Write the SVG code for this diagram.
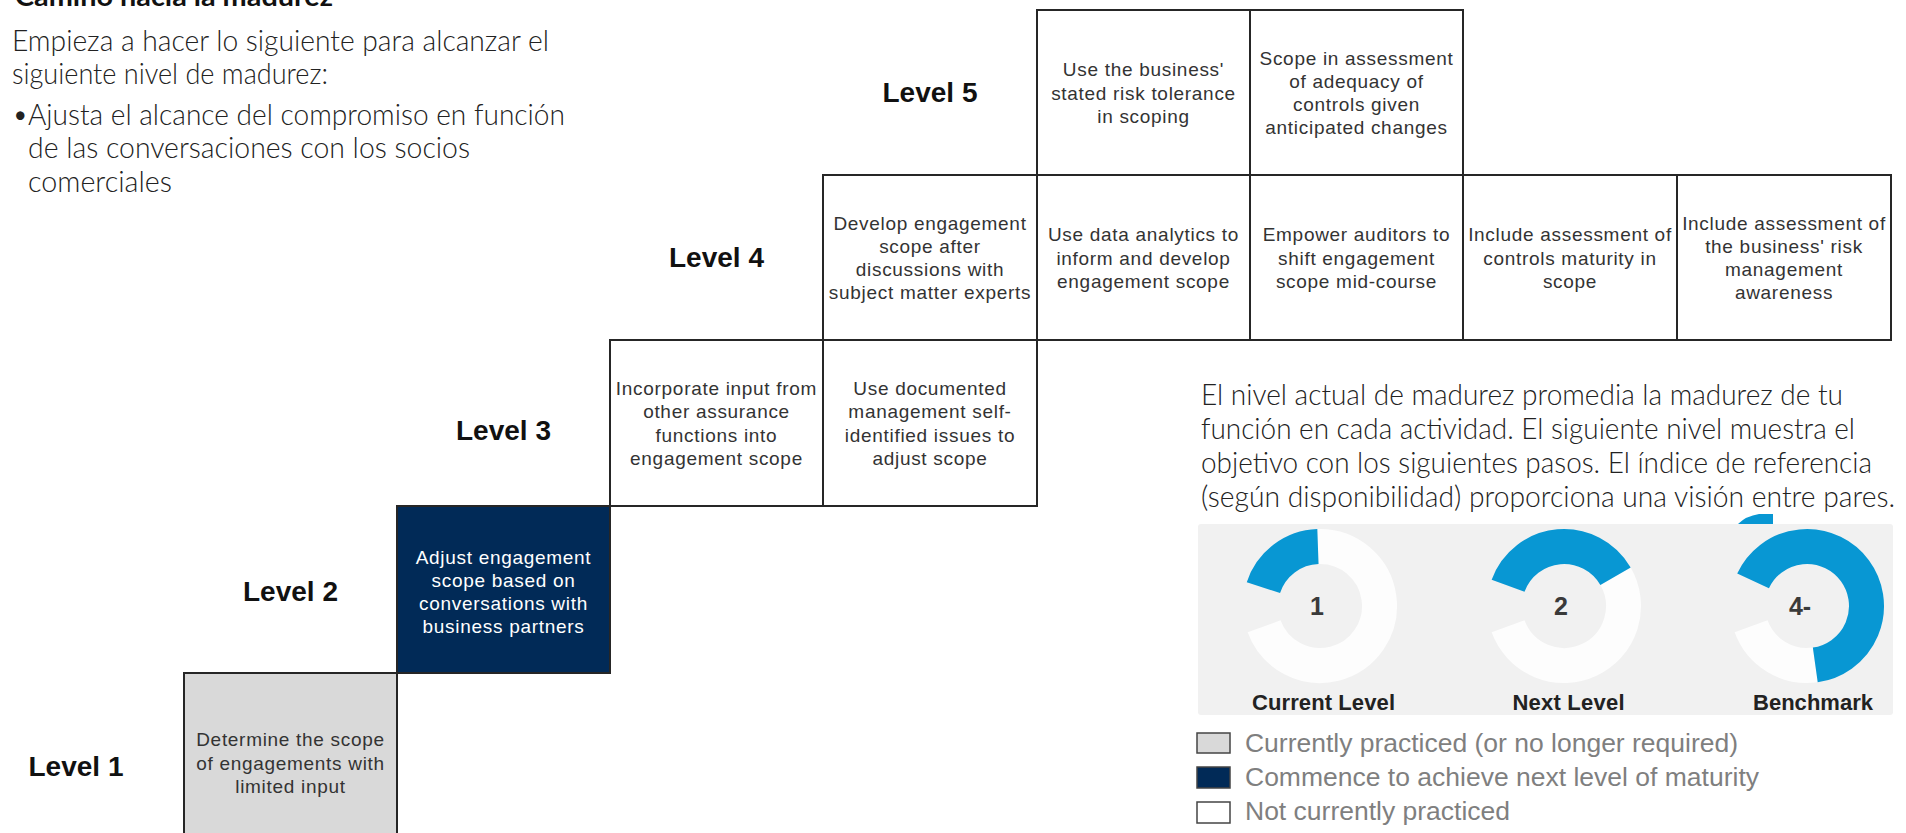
<svg xmlns="http://www.w3.org/2000/svg" width="1906" height="833" viewBox="0 0 1906 833">
<style>
.page{font-family:Lato,"Open Sans","Liberation Sans",sans-serif;font-weight:300;font-size:28.5px;fill:#222}
.title{font-family:Lato,"Open Sans","Liberation Sans",sans-serif;font-weight:700;font-size:26px;fill:#111}
.lvl{font-family:"Liberation Sans",Arial,sans-serif;font-weight:700;font-size:28px;fill:#111;text-anchor:middle}
.box{stroke:#262626;stroke-width:2}
.w{fill:#fff}
.g{fill:#d9d9d9}
.n{fill:#012a57}
.bt{font-family:"Liberation Sans",Arial,sans-serif;font-size:19px;letter-spacing:0.7px;fill:#333;text-anchor:middle}
.bt.inv{fill:#fff}
.ring{fill:none;stroke-width:35}
.blue{stroke:#0897d3}
.white{stroke:#fdfdfd}
.num{font-family:"Liberation Sans",Arial,sans-serif;font-weight:700;font-size:25px;fill:#3a3a3a;text-anchor:middle}
.dl{font-family:"Liberation Sans",Arial,sans-serif;font-weight:700;font-size:22px;fill:#222;text-anchor:middle}
.lg{font-family:"Liberation Sans",Arial,sans-serif;font-size:26.5px;fill:#7f7f7f}
.lgb{stroke:#444;stroke-width:1.5}
</style>
<rect width="1906" height="833" fill="#fff"/>

<!-- left text -->
<g id="intro">
<text class="title" x="15" y="6" textLength="318" lengthAdjust="spacingAndGlyphs">Camino hacia la madurez</text>
<text class="page" x="12" y="51" textLength="537" lengthAdjust="spacingAndGlyphs">Empieza a hacer lo siguiente para alcanzar el</text>
<text class="page" x="12" y="84" textLength="316" lengthAdjust="spacingAndGlyphs">siguiente nivel de madurez:</text>
<text class="page" x="12" y="125">•</text>
<text class="page" x="28" y="125" textLength="537" lengthAdjust="spacingAndGlyphs">Ajusta el alcance del compromiso en función</text>
<text class="page" x="28" y="158" textLength="442" lengthAdjust="spacingAndGlyphs">de las conversaciones con los socios</text>
<text class="page" x="28" y="192" textLength="144" lengthAdjust="spacingAndGlyphs">comerciales</text>
</g>

<!-- level labels -->
<g id="level-labels">
<text class="lvl" x="930" y="102">Level 5</text>
<text class="lvl" x="716.5" y="267">Level 4</text>
<text class="lvl" x="503.5" y="440">Level 3</text>
<text class="lvl" x="290.5" y="601">Level 2</text>
<text class="lvl" x="76" y="776">Level 1</text>
</g>

<!-- Level 5 -->
<g id="l5-risk-tolerance">
<rect class="box w" x="1037" y="10" width="213" height="165"/>
<text class="bt"><tspan x="1143.5" y="76.3">Use the business'</tspan><tspan x="1143.5" y="99.5">stated risk tolerance</tspan><tspan x="1143.5" y="122.7">in scoping</tspan></text>
</g>
<g id="l5-adequacy">
<rect class="box w" x="1250" y="10" width="213" height="165"/>
<text class="bt"><tspan x="1356.5" y="64.7">Scope in assessment</tspan><tspan x="1356.5" y="87.9">of adequacy of</tspan><tspan x="1356.5" y="111.1">controls given</tspan><tspan x="1356.5" y="134.3">anticipated changes</tspan></text>
</g>

<!-- Level 4 -->
<g id="l4-sme">
<rect class="box w" x="823" y="175" width="214" height="165"/>
<text class="bt"><tspan x="930" y="229.7">Develop engagement</tspan><tspan x="930" y="252.9">scope after</tspan><tspan x="930" y="276.1">discussions with</tspan><tspan x="930" y="299.3">subject matter experts</tspan></text>
</g>
<g id="l4-analytics">
<rect class="box w" x="1037" y="175" width="213" height="165"/>
<text class="bt"><tspan x="1143.5" y="241.3">Use data analytics to</tspan><tspan x="1143.5" y="264.5">inform and develop</tspan><tspan x="1143.5" y="287.7">engagement scope</tspan></text>
</g>
<g id="l4-empower">
<rect class="box w" x="1250" y="175" width="213" height="165"/>
<text class="bt"><tspan x="1356.5" y="241.3">Empower auditors to</tspan><tspan x="1356.5" y="264.5">shift engagement</tspan><tspan x="1356.5" y="287.7">scope mid-course</tspan></text>
</g>
<g id="l4-controls-maturity">
<rect class="box w" x="1463" y="175" width="214" height="165"/>
<text class="bt"><tspan x="1570" y="241.3">Include assessment of</tspan><tspan x="1570" y="264.5">controls maturity in</tspan><tspan x="1570" y="287.7">scope</tspan></text>
</g>
<g id="l4-risk-awareness">
<rect class="box w" x="1677" y="175" width="214" height="165"/>
<text class="bt"><tspan x="1784" y="229.7">Include assessment of</tspan><tspan x="1784" y="252.9">the business' risk</tspan><tspan x="1784" y="276.1">management</tspan><tspan x="1784" y="299.3">awareness</tspan></text>
</g>

<!-- Level 3 -->
<g id="l3-assurance">
<rect class="box w" x="610" y="340" width="213" height="166"/>
<text class="bt"><tspan x="716.5" y="395.2">Incorporate input from</tspan><tspan x="716.5" y="418.4">other assurance</tspan><tspan x="716.5" y="441.6">functions into</tspan><tspan x="716.5" y="464.8">engagement scope</tspan></text>
</g>
<g id="l3-self-identified">
<rect class="box w" x="823" y="340" width="214" height="166"/>
<text class="bt"><tspan x="930" y="395.2">Use documented</tspan><tspan x="930" y="418.4">management self-</tspan><tspan x="930" y="441.6">identified issues to</tspan><tspan x="930" y="464.8">adjust scope</tspan></text>
</g>

<!-- Level 2 -->
<g id="l2-adjust">
<rect class="box n" x="397" y="506" width="213" height="167"/>
<text class="bt inv"><tspan x="503.5" y="563.7">Adjust engagement</tspan><tspan x="503.5" y="586.9">scope based on</tspan><tspan x="503.5" y="610.1">conversations with</tspan><tspan x="503.5" y="633.3">business partners</tspan></text>
</g>

<!-- Level 1 -->
<g id="l1-determine">
<rect class="box g" x="184" y="673" width="213" height="175"/>
<text class="bt"><tspan x="290.5" y="746.3">Determine the scope</tspan><tspan x="290.5" y="769.5">of engagements with</tspan><tspan x="290.5" y="792.7">limited input</tspan></text>
</g>

<!-- right paragraph -->
<g id="explanation">
<text class="page" x="1201" y="405" textLength="642" lengthAdjust="spacingAndGlyphs">El nivel actual de madurez promedia la madurez de tu</text>
<text class="page" x="1201" y="439" textLength="654" lengthAdjust="spacingAndGlyphs">función en cada actividad. El siguiente nivel muestra el</text>
<text class="page" x="1201" y="473" textLength="671" lengthAdjust="spacingAndGlyphs">objetivo con los siguientes pasos. El índice de referencia</text>
<text class="page" x="1201" y="507" textLength="694" lengthAdjust="spacingAndGlyphs">(según disponibilidad) proporciona una visión entre pares.</text>
</g>

<!-- gauges panel -->
<g id="gauges">
<path d="M1738,524 Q1746,516 1759,514 L1773,514 L1773,524 Z" fill="#0897d3"/>
<rect x="1198" y="524" width="695" height="191" rx="3" fill="#f1f1f1"/>
<g id="gauge-current">
<path class="ring white" d="M1317.92,546.54 A59.5,59.5 0 1 1 1264.09,626.35"/>
<path class="ring blue" d="M1263.41,587.61 A59.5,59.5 0 0 1 1317.92,546.54"/>
<text class="num" x="1317" y="615">1</text>
<text class="dl" x="1323.5" y="710" textLength="143">Current Level</text>
</g>
<g id="gauge-next">
<path class="ring white" d="M1615.53,576.25 A59.5,59.5 0 1 1 1508.09,626.35"/>
<path class="ring blue" d="M1508.09,585.65 A59.5,59.5 0 0 1 1615.53,576.25"/>
<text class="num" x="1561" y="615">2</text>
<text class="dl" x="1568.5" y="710" textLength="112">Next Level</text>
</g>
<g id="gauge-benchmark">
<path class="ring white" d="M1815.28,664.92 A59.5,59.5 0 0 1 1751.09,626.35"/>
<path class="ring blue" d="M1753.07,580.85 A59.5,59.5 0 1 1 1815.28,664.92"/>
<text class="num" x="1800" y="615">4-</text>
<text class="dl" x="1813" y="710" textLength="120">Benchmark</text>
</g>
</g>

<!-- legend -->
<g id="legend">
<rect class="lgb" x="1197" y="733" width="33" height="20" fill="#d9d9d9"/>
<text class="lg" x="1245" y="752" textLength="493">Currently practiced (or no longer required)</text>
<rect class="lgb" x="1197" y="767" width="33" height="21" fill="#012a57"/>
<text class="lg" x="1245" y="786" textLength="514">Commence to achieve next level of maturity</text>
<rect class="lgb" x="1197" y="802" width="33" height="21" fill="#fff"/>
<text class="lg" x="1245" y="820" textLength="265">Not currently practiced</text>
</g>

<g id="connectors"></g>
</svg>
